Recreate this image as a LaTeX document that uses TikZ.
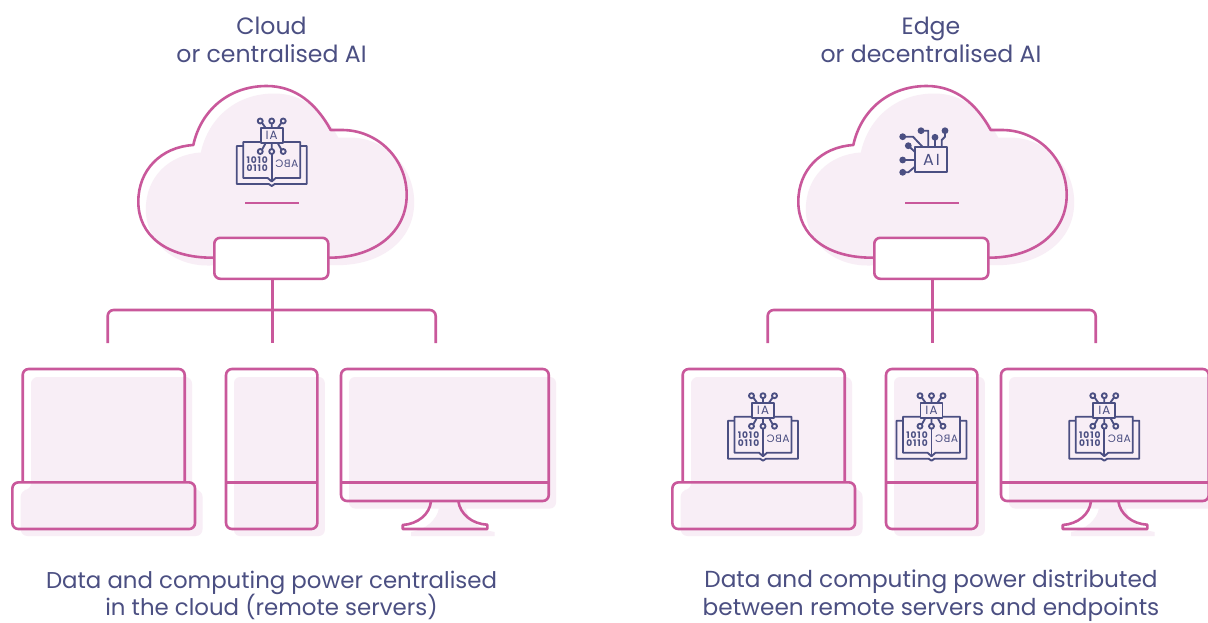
\documentclass[tikz,border=0pt]{standalone}
\usepackage{fontspec}
\setmainfont{Poppins}
\definecolor{pinkline}{HTML}{C9589B}
\definecolor{pinkfill}{HTML}{F8EEF6}
\definecolor{navy}{HTML}{4B4F82}
\tikzset{
  x=0.75pt,y=-0.75pt,
  outline/.style={draw=pinkline,line width=1.95pt,line join=round},
  shade/.style={fill=pinkfill,draw=none},
  title/.style={text=navy,font=\fontsize{17.15}{21}\selectfont,align=center,inner sep=0pt},
  headtitle/.style={title,font=\fontsize{17.7}{21}\selectfont},
  tailtitle/.style={title,font=\fontsize{17.4}{21}\selectfont},
  icon/.style={draw=navy,line width=1.4pt,line join=round},
  icontext/.style={text=navy,inner sep=0pt,font=\fontsize{8}{9}\selectfont},
  digits/.style={text=navy,inner sep=0pt,font=\fontsize{6.8}{8}\selectfont\bfseries\addfontfeatures{LetterSpace=10}},
  pics/bookicon/.style={code={
    \draw[icon] (-28.5,18)--(-35,18)--(-35,56)--(-3,56)--(0,58)--(3,56)--(35,56)--(35,18)--(28.5,18);
    \draw[icon] (-11,14)--(-28.5,14)--(-28.5,50)--(-4,50)--(0,53.5)--(4,50)--(28.5,50)--(28.5,14)--(11,14);
    \draw[icon] (0,25.5)--(0,53.5);
    \draw[icon,fill=pinkfill] (-11,0) rectangle (11,15);
    \node[icontext,font=\fontsize{9}{10}\selectfont\addfontfeatures{LetterSpace=8}] at (0,7.5) {\reflectbox{AI}};
    \foreach \s in {-11.5,0,11.5}{\draw[icon] (\s,-7) circle[radius=2.5];}
    \draw[icon] (0,-4.5)--(0,0) (-9.7,-5.2)--(-6,0) (9.7,-5.2)--(6,0);
    \foreach \s in {-11.5,0,11.5}{\draw[icon] (\s,23.5) circle[radius=2.5];}
    \draw[icon] (0,21)--(0,15) (-9.7,21.7)--(-6,15) (9.7,21.7)--(6,15);
    \node[digits] at (-14.5,32) {1010};
    \node[digits] at (-14.5,40.5) {0110};
    \node[icontext,font=\fontsize{8}{9}\selectfont\addfontfeatures{LetterSpace=6}] at (15,36) {\reflectbox{ABC}};
  }},
  pics/chipicon/.style={code={
    \draw[icon,fill=pinkfill] (915,147.3) rectangle (947.3,172.3);
    \node[icontext,font=\fontsize{12}{13}\selectfont\addfontfeatures{LetterSpace=12}] at (931.5,160) {AI};
    \foreach \x/\y in {902.7/136.7,921/130.7,935/137.3,945/130.7,908.3/145.7,902.7/160,902.7/172.3}
      {\fill[navy] (\x,\y) circle[radius=3.4];}
    \draw[icon] (902.7,136.7)--(913,136.7)--(923,147.3)
      (921,130.7)--(928.3,130.7)--(928.3,147.3)
      (935,137.3)--(935,147.3)
      (945,130.7)--(945,136.7)--(941.7,140)--(941.7,147.3)
      (908.3,145.7)--(915,152)
      (902.7,160)--(915,160)
      (902.7,172.3)--(908.3,172.3)--(915,166.7);
  }},
}
\newcommand{\panelart}[1]{%
  % shadows
  \fill[shade,shift={(7.5,7.5)}] (328.3,257.7) .. controls (375,258) and (406.7,232) .. (406.7,195)
     .. controls (406.7,158) and (377,130) .. (342,130) -- (330.7,130)
     .. controls (316,103) and (295,86) .. (266.7,86)
     .. controls (229,86) and (201,110) .. (193.3,145)
     .. controls (161,147) and (138.3,170) .. (138.3,201.7)
     .. controls (138.3,235) and (166,258) .. (200,258) -- cycle;
  \fill[shade] (31,377) [rounded corners=5pt] -- (192,377) -- (192,490) -- (202.5,490) -- (202.5,536) -- (20.7,536) -- (20.7,490) -- (31,490) -- cycle;
  \fill[shade,rounded corners=4.5pt] (234,377) rectangle (324.8,536);
  \fill[shade,rounded corners=4.5pt] (349,377) rectangle (556,508.5);
  \fill[shade] (439,508) .. controls (437,520) and (425,530) .. (411,532) -- (411,536) -- (494.5,536) -- (494.5,532) .. controls (480,530) and (468,520) .. (465.5,508) -- cycle;
  % cloud outline
  \draw[outline] (328.3,257.7) .. controls (375,258) and (406.7,232) .. (406.7,195)
     .. controls (406.7,158) and (377,130) .. (342,130) -- (330.7,130)
     .. controls (316,103) and (295,86) .. (266.7,86)
     .. controls (229,86) and (201,110) .. (193.3,145)
     .. controls (161,147) and (138.3,170) .. (138.3,201.7)
     .. controls (138.3,235) and (166,258) .. (213.3,257.7);
  \draw[outline] (245,203) -- (299,203);
  % hub
  \node[outline,fill=white,rectangle,rounded corners=4.5pt,minimum width=85.5pt,minimum height=30.75pt,inner sep=0pt] (#1hub) at (271.3,258.3) {};
  \coordinate (#1left) at (107.7,343);
  \coordinate (#1mid) at (272.5,343);
  \coordinate (#1right) at (435.7,343);
  \coordinate (#1bar) at (272.5,310);
  \draw[outline] (#1hub.south -| #1mid) -- (#1mid);
  \draw[outline,rounded corners=4.5pt] (#1left) |- (#1bar) -| (#1right);
  % laptop
  \draw[outline,rounded corners=4.5pt] (22.7,482.3) -- (22.7,369) -- (184.7,369) -- (184.7,482.3);
  \node[outline,rectangle,rounded corners=4.5pt,minimum width=137pt,minimum height=35pt,inner sep=0pt] (#1laptop) at (103.7,505.7) {};
  % phone
  \node[outline,rectangle,rounded corners=4.5pt,minimum width=68.5pt,minimum height=120pt,inner sep=0pt] (#1phone) at (271.7,449) {};
  \draw[outline] (226,482.3) -- (317.4,482.3);
  % monitor
  \node[outline,rectangle,rounded corners=4.5pt,minimum width=155.8pt,minimum height=99pt,inner sep=0pt] (#1monitor) at (444.9,435) {};
  \draw[outline] (341,482.3) -- (548.8,482.3);
  \draw[outline] (431,501) .. controls (430,514) and (418,524) .. (402.7,525) -- (402.7,529) -- (487.3,529) -- (487.3,524.7) .. controls (472,524) and (460,514) .. (458.3,501);
}
\begin{document}
\begin{tikzpicture}
\useasboundingbox (0,0) rectangle (1208,622);
\fill[white] (0,0) rectangle (1208,622);
\panelart{a}
\begin{scope}[xshift=495pt]
\panelart{b}
\end{scope}
\pic at (271.7,128) {bookicon};
\pic at (0,0) {chipicon};
\pic at (763,402.7) {bookicon};
\pic at (931.5,402.7) {bookicon};
\pic at (1104.3,402.7) {bookicon};
\node[headtitle] (t1) at (271.5,40) {Cloud\\or centralised AI};
\node[headtitle] (t2) at (931,40) {Edge\\or decentralised AI};
\node[title] (b1) at (271.5,595.5) {Data and computing power centralised\\[-0.6pt]in the cloud (remote servers)};
\node[tailtitle] (b2) at (931,596) {Data and computing power distributed\\between remote servers and endpoints};
\end{tikzpicture}
\end{document}
